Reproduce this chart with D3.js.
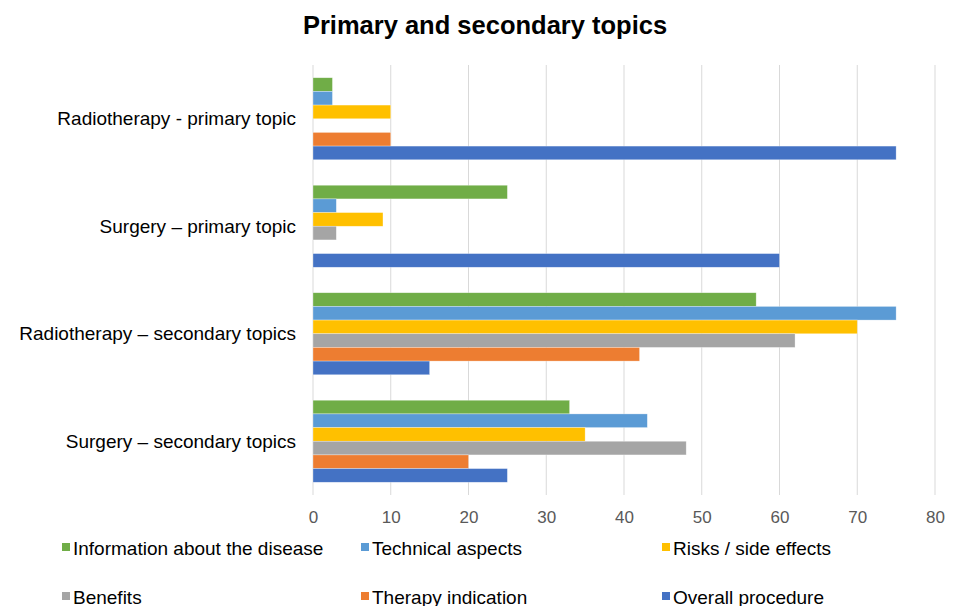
<!DOCTYPE html>
<html><head><meta charset="utf-8">
<script src="https://cdn.jsdelivr.net/npm/d3@7"></script>
<style>body{margin:0;background:#fff;font-family:"Liberation Sans",Arial,sans-serif}</style>
</head><body><svg id="c" width="953" height="606"></svg>
<script>
const categories = ["Radiotherapy - primary topic","Surgery \u2013 primary topic","Radiotherapy \u2013 secondary topics","Surgery \u2013 secondary topics"];
const seriesNames = ["Information about the disease","Technical aspects","Risks / side effects","Benefits","Therapy indication","Overall procedure"];
const seriesColors = ["#70AD47","#5B9BD5","#FFC000","#A5A5A5","#ED7D31","#4472C4"];
const infoDisease = [2.5,25,57,33];
const technical = [2.5,3,75,43];
const risks = [10,9,70,35];
const benefits = [0,3,62,48];
const therapy = [10,0,42,20];
const overall = [75,60,15,25];
const tickValues = [0,10,20,30,40,50,60,70,80];
const series = [infoDisease,technical,risks,benefits,therapy,overall];

(function(){
const svg = d3.select("#c");
const pL=313,pR=935,pT=65,pB=495;
const x = d3.scaleLinear().domain([0,80]).range([pL,pR]);
const y = d3.scaleBand().domain(categories).range([pT,pB]).paddingInner(0.237).paddingOuter(0.1185);
const yi = d3.scaleBand().domain(d3.range(series.length)).range([0,y.bandwidth()]);

svg.append("text").attr("x",485).attr("y",34).attr("text-anchor","middle")
  .attr("font-size",25.5).attr("font-weight","bold").attr("fill","#000").text("Primary and secondary topics");

svg.append("g").selectAll("line").data(tickValues).join("line")
  .attr("x1",d=>x(d)).attr("x2",d=>x(d)).attr("y1",pT).attr("y2",pB)
  .attr("stroke","#d9d9d9").attr("stroke-width",1);

const ax = svg.append("g").attr("transform",`translate(0,${pB})`)
  .call(d3.axisBottom(x).tickValues(tickValues).tickSize(0).tickPadding(16));
ax.select(".domain").remove();
ax.selectAll("text").attr("font-size",17).attr("fill","#595959").attr("font-family","Liberation Sans, Arial, sans-serif");

categories.forEach((c,ci)=>{
  series.forEach((s,si)=>{
    if(s[ci]<=0) return;
    svg.append("rect").attr("x",x(0)).attr("y",y(c)+yi(si))
      .attr("width",x(s[ci])-x(0)).attr("height",yi.bandwidth())
      .attr("fill",seriesColors[si]).attr("stroke","#fff").attr("stroke-opacity",0.5).attr("stroke-width",0.6);
  });
});

svg.append("g").selectAll("text").data(categories).join("text")
  .attr("x",296).attr("y",d=>y(d)+y.bandwidth()/2+6.5).attr("text-anchor","end")
  .attr("font-size",19).attr("fill","#000").text(d=>d);

const legPos = [[62,555],[361,555],[662,555],[62,604],[361,604],[662,604]];
const lg = svg.append("g").selectAll("g").data(seriesNames).join("g")
  .attr("transform",(d,i)=>`translate(${legPos[i][0]},${legPos[i][1]})`);
lg.append("rect").attr("x",0).attr("y",-12).attr("width",8).attr("height",8).attr("fill",(d,i)=>seriesColors[i]);
lg.append("text").attr("x",11).attr("y",0).attr("font-size",19).attr("fill","#000").text(d=>d);
})();
</script></body></html>
